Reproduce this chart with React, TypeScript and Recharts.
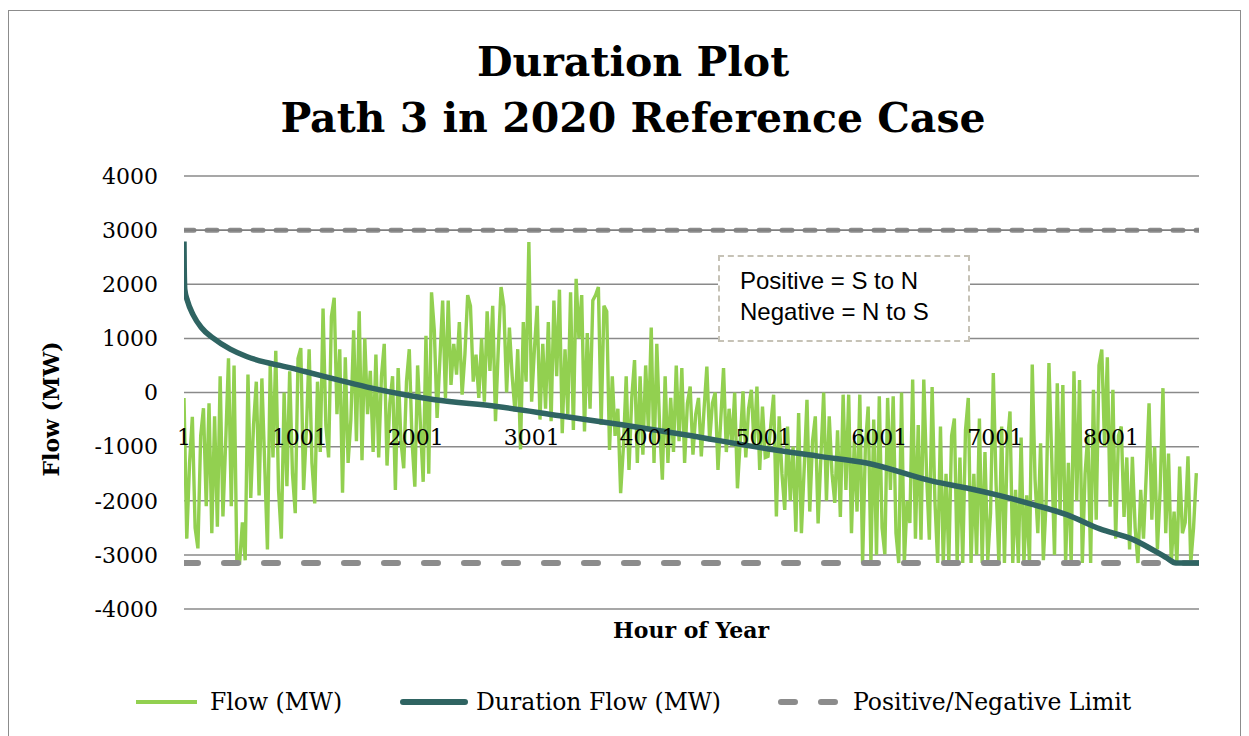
import React from 'react';
import { ComposedChart, Line, XAxis, YAxis, CartesianGrid, ReferenceLine } from 'recharts';

// ---- data ----
const FLOW_STEP_HOURS = 24; // one reading per day of the year

const flowValues: number[] = [
  -100, -2700, -1300, -450, -2500, -2880, -800, -290, -2100, -200,
  -2600, -440, -2480, 300, -2290, -900, 630, -2100, 500, -3150,
  -3150, -2400, -3100, 330, -1950, -600, 200, -1900, 260, -1300,
  -2900, 510, -1200, 770, -1800, -2700, 0, -1730, 390, -1500,
  -2230, 630, 820, -1800, -700, 800, -1300, -2050, 200, -1100,
  1550, -600, -1200, 1400, 1750, -400, 800, -1850, 650, -1300,
  -500, 1150, -900, 1500, -1250, 1000, -400, 400, -1100, 700,
  -1200, 300, 900, -1350, -200, 300, -1800, 450, -900, -1400,
  200, 800, -900, -1740, 500, -600, -1650, 1050, -1500, 1850,
  1150, -470, 600, 1700, -100, 1700, 140, 900, 330, 1300,
  -40, 700, 1800, 1600, 200, 700, -100, 1000, -170, 1500,
  400, 1600, -530, 800, 1950, 1600, 0, 1200, 300, -350,
  800, -1050, 1300, 200, 2780, -170, 800, 1600, -500, 900,
  -300, 1300, -530, 1700, 300, 1900, -750, 800, -400, 1850,
  -690, 2100, 1000, 1800, -720, 1100, -300, 1700, 1800, 1950,
  -600, 1600, 1500, -1060, 300, -800, -300, -1860, -1000, 300,
  -1430, -100, 600, -1300, 300, -1150, 500, -700, 1200, -1300,
  900, -600, -1610, 300, -1300, -100, -1100, 500, -900, 450,
  -1300, -200, 110, -1150, -400, -100, -1180, -300, 480, -900,
  -200, 0, -1430, -500, 450, -1100, -300, -1000, 0, -1770,
  -900, 20, -1200, -300, 50, -1000, 110, -1430, -260, -1200,
  -1180, -600, -40, -2290, -440, -1500, -2170, -630, -2000, -1000,
  -2570, -380, -2600, -1400, -135, -2200, -900, -440, -2420, -1200,
  0, -2000, -440, -1500, -2040, -700, -2300, -40, -1800, -40,
  -2600, -900, -2200, -40, -3150, -1000, -260, -3150, -500, -3000,
  -70, -2500, -2990, -100, -1800, -70, -2600, -3150, 0, -3150,
  -2000, -2410, 240, -2700, -600, -2720, 240, -1500, -2720, 100,
  -2000, -3150, -630, -3150, -1500, -3150, -800, -480, -3150, -1200,
  -3150, -700, -100, -3150, -1500, -3000, -480, -3150, -1100, -3100,
  -2230, 360, -1700, -3150, -630, -3150, -1000, -350, -3150, -1800,
  -3150, -830, -3150, -1900, -3150, 515, -1600, -2600, -940, -3100,
  -2000, 545, -1200, -3000, 170, -2200, 140, -3150, -1300, -3150,
  390, -2000, 230, -3150, -1500, -760, -3150, 50, -2350, 500,
  795, -1000, 650, -2110, 50, -2700, -800, -630, -2300, -1200,
  -2900, -1190, -2500, -3150, -1800, -2700, -1500, -200, -2350, -1000,
  -2900, -1800, 80, -2600, -1130, -3150, -2200, -3150, -1370, -2600,
  -2400, -1180, -3150, -2500, -1490,
];

const durationHours: number[] = [
  1, 3, 8, 30, 80, 150, 253, 400, 541, 700, 828, 1044, 1329, 1622, 1907, 2166,
  2701, 3245, 3780, 4324, 5031, 5489, 5892, 6467, 6755, 7042, 7330, 7618, 7905,
  8193, 8481, 8560, 8760,
];
const durationValues: number[] = [
  2790, 2300, 1900, 1700, 1434, 1200, 1003, 800, 665, 560, 500, 388, 234, 80, -43, -135,
  -258, -430, -597, -781, -1039, -1180, -1303, -1642, -1764, -1906, -2072, -2257, -2520,
  -2718, -3055, -3150, -3150,
];

const limitHours: number[] = [1, 8760];
const positiveLimit: number[] = [3000, 3000];
const negativeLimit: number[] = [-3150, -3150];

const xTicks: number[] = [1, 1001, 2001, 3001, 4001, 5001, 6001, 7001, 8001];
const yTicks: number[] = [-4000, -3000, -2000, -1000, 0, 1000, 2000, 3000, 4000];

const titleLines: string[] = ['Duration Plot', 'Path 3 in 2020 Reference Case'];
const xAxisTitle = 'Hour of Year';
const yAxisTitle = 'Flow (MW)';
const noteLines: string[] = ['Positive = S to N', 'Negative = N to S'];
const legendLabels: string[] = ['Flow (MW)', 'Duration Flow (MW)', 'Positive/Negative Limit'];

// ---- tables built from the arrays ----
const flowData = flowValues.map((v, i) => ({ hour: 1 + i * FLOW_STEP_HOURS, flow: v }));
const durationData = durationHours.map((h, i) => ({ hour: h, duration: durationValues[i] }));
const posLimitData = limitHours.map((h, i) => ({ hour: h, limit: positiveLimit[i] }));
const negLimitData = limitHours.map((h, i) => ({ hour: h, limit: negativeLimit[i] }));

// ---- styles ----
const SERIF = '"DejaVu Serif", serif';
const GREEN = '#92d050';
const TEAL = '#2f6462';
const LIMIT = '#8c8c8c';
const GRID = '#8a8a8a';
const X_LABEL_SHIFT = -164;

const XTick = (props: any) => {
  const { x, y, payload } = props;
  return (
    <text x={x} y={y + X_LABEL_SHIFT} textAnchor="middle" fontSize={22} fontFamily={SERIF} fill="#000">
      {payload.value}
    </text>
  );
};

export default function App() {
  return (
    <div style={{ position: 'relative', width: 1233, height: 728, overflow: 'hidden', background: '#fff' }}>
      <div
        style={{
          position: 'absolute', left: 0, top: 2, width: 1233, height: 760,
          border: '1.5px solid #8c8c8c', boxSizing: 'border-box',
        }}
      />
      <div
        style={{
          position: 'absolute', left: 0, top: 26, width: 1250, textAlign: 'center',
          fontFamily: SERIF, fontWeight: 'bold', fontSize: 41, lineHeight: '56px', color: '#000',
        }}
      >
        {titleLines.map((t) => (
          <div key={t}>{t}</div>
        ))}
      </div>

      <div style={{ position: 'absolute', left: 0, top: 0 }}>
        <ComposedChart width={1233} height={720} margin={{ top: 168, right: 42, left: 0, bottom: 89 }}>
          <CartesianGrid vertical={false} stroke={GRID} strokeWidth={1.5} />
          <XAxis
            dataKey="hour"
            type="number"
            domain={[1, 8760]}
            ticks={xTicks}
            interval={0}
            axisLine={false}
            tickLine={false}
            tickSize={0}
            tickMargin={0}
            height={30}
            tick={<XTick />}
            allowDataOverflow
          />
          <YAxis
            type="number"
            domain={[-4000, 4000]}
            ticks={yTicks}
            interval={0}
            axisLine={false}
            tickLine={false}
            tickSize={0}
            tickMargin={26}
            width={176}
            tick={{ fill: '#000', fontSize: 22, fontFamily: SERIF }}
          />
          <Line
            data={flowData}
            dataKey="flow"
            type="linear"
            stroke={GREEN}
            strokeWidth={3.4}
            dot={false}
            activeDot={false}
            isAnimationActive={false}
          />
          <Line
            data={posLimitData}
            dataKey="limit"
            type="linear"
            stroke={LIMIT}
            strokeWidth={5}
            strokeDasharray="10 13"
            strokeLinecap="round"
            dot={false}
            activeDot={false}
            isAnimationActive={false}
          />
          <ReferenceLine y={3000} stroke="#7a7a7a" strokeWidth={1.2} />
          <Line
            data={negLimitData}
            dataKey="limit"
            type="linear"
            stroke={LIMIT}
            strokeWidth={6}
            strokeDasharray="14 26"
            strokeLinecap="round"
            dot={false}
            activeDot={false}
            isAnimationActive={false}
          />
          <Line
            data={durationData}
            dataKey="duration"
            type="monotone"
            stroke={TEAL}
            strokeWidth={5.5}
            dot={false}
            activeDot={false}
            isAnimationActive={false}
          />
        </ComposedChart>
      </div>

      {/* note box */}
      <div
        style={{
          position: 'absolute', left: 710, top: 247, width: 252, height: 87, boxSizing: 'border-box',
          border: '2px dashed #c6c2b6', background: '#fff', padding: '8px 0 0 20px',
          fontFamily: '"Liberation Sans", Arial, sans-serif', fontSize: 24, lineHeight: '31px', color: '#000',
          whiteSpace: 'nowrap',
        }}
      >
        {noteLines.map((t) => (
          <div key={t}>{t}</div>
        ))}
      </div>

      {/* axis titles */}
      <div
        style={{
          position: 'absolute', left: 43, top: 401, transform: 'translate(-50%, -50%) rotate(-90deg)',
          whiteSpace: 'nowrap', fontFamily: SERIF, fontWeight: 'bold', fontSize: 22, color: '#000',
        }}
      >
        {yAxisTitle}
      </div>
      <div
        style={{
          position: 'absolute', left: 683, top: 622, transform: 'translate(-50%, -50%)',
          whiteSpace: 'nowrap', fontFamily: SERIF, fontWeight: 'bold', fontSize: 22, color: '#000',
        }}
      >
        {xAxisTitle}
      </div>

      {/* legend */}
      <svg style={{ position: 'absolute', left: 0, top: 674 }} width={1233} height={40}>
        <line x1={128} y1={20} x2={189} y2={20} stroke={GREEN} strokeWidth={4} />
        <text x={202} y={28} fontFamily={SERIF} fontSize={23.5} fill="#000">{legendLabels[0]}</text>
        <line x1={395} y1={20} x2={457} y2={20} stroke={TEAL} strokeWidth={6} strokeLinecap="round" />
        <text x={468} y={28} fontFamily={SERIF} fontSize={23.5} fill="#000">{legendLabels[1]}</text>
        <line x1={773} y1={20} x2={832} y2={20} stroke={LIMIT} strokeWidth={6} strokeDasharray="14 26" strokeLinecap="round" />
        <text x={845} y={28} fontFamily={SERIF} fontSize={23.5} fill="#000">{legendLabels[2]}</text>
      </svg>
    </div>
  );
}
